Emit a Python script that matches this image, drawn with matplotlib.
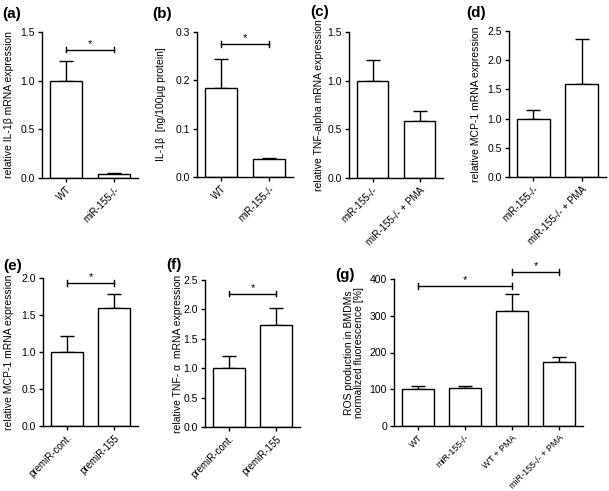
import numpy as np
import matplotlib
matplotlib.use("Agg")
import matplotlib.pyplot as plt

plt.rcParams['font.family'] = ['Liberation Sans', 'DejaVu Sans']

# panel data (means and upper error bars)
a_labels = ["WT", "miR-155-/-"]
a_means = [1.0, 0.04]
a_errs = [0.2, 0.01]

b_labels = ["WT", "miR-155-/-"]
b_means = [0.185, 0.038]
b_errs = [0.06, 0.002]

c_labels = ["miR-155-/-", "miR-155-/- + PMA"]
c_means = [1.0, 0.59]
c_errs = [0.21, 0.1]

d_labels = ["miR-155-/-", "miR-155-/- + PMA"]
d_means = [1.0, 1.6]
d_errs = [0.14, 0.76]

e_labels = ["premiR-cont.", "premiR-155"]
e_means = [1.0, 1.6]
e_errs = [0.21, 0.18]

f_labels = ["premiR-cont.", "premiR-155"]
f_means = [1.0, 1.73]
f_errs = [0.2, 0.3]

g_labels = ["WT", "miR-155-/-", "WT + PMA", "miR-155-/- + PMA"]
g_means = [101, 103, 313, 174]
g_errs = [7, 5, 45, 14]

W, H = 609, 491
fig = plt.figure(figsize=(W / 100, H / 100), dpi=100)
FS = 7.5


def panel(left, right, top, bottom, labels, means, errs, ymax, step, ylabel,
          label_x, letter, letter_xy, fmt="%.1f", brackets=(), xfs=7):
    ax = fig.add_axes([left / W, 1 - bottom / H, (right - left) / W, (bottom - top) / H])
    x = np.arange(len(labels))
    ax.bar(x, means, width=0.68, color="white", edgecolor="black", linewidth=1.0, zorder=2)
    ax.errorbar(x, means, yerr=[np.zeros(len(errs)), errs], fmt="none", ecolor="black",
                elinewidth=1.0, capsize=5, capthick=1.0, zorder=1)
    ax.set_xlim(-0.5, len(labels) - 0.5)
    ax.set_ylim(0, ymax)
    ticks = np.arange(0, ymax + step / 2, step)
    ax.set_yticks(ticks)
    ax.set_yticklabels([fmt % t for t in ticks])
    ax.set_xticks(x)
    ax.set_xticklabels(labels, rotation=45, ha="right", rotation_mode="anchor")
    for s in ["top", "right"]:
        ax.spines[s].set_visible(False)
    for s in ["left", "bottom"]:
        ax.spines[s].set_linewidth(1.0)
    ax.tick_params(axis="both", direction="out", length=3, width=1.0, labelsize=FS, pad=2)
    ax.tick_params(axis="x", labelsize=xfs, pad=2)
    ax.set_ylabel(ylabel, fontsize=FS, linespacing=1.0)
    ax.yaxis.set_label_coords(label_x / W, 1 - (top + bottom) / 2 / H, transform=fig.transFigure)
    for (i, j, yb) in brackets:
        d = ymax * 0.02
        ax.plot([i, j], [yb, yb], color="black", lw=1.0, clip_on=False)
        ax.plot([i, i], [yb - d, yb + d], color="black", lw=1.0, clip_on=False)
        ax.plot([j, j], [yb - d, yb + d], color="black", lw=1.0, clip_on=False)
        ax.text((i + j) / 2, yb + d * 0.3, "*", ha="center", va="bottom", fontsize=8)
    fig.text(letter_xy[0] / W, 1 - letter_xy[1] / H, letter, fontsize=11, fontweight="bold",
             ha="left", va="center")
    return ax


panel(42, 138, 32, 178, a_labels, a_means, a_errs, 1.5, 0.5,
      "relative IL-1\u03b2 mRNA expression", 14, "(a)", (2, 14), brackets=[(0, 1, 1.32)])
panel(197, 293, 32, 177, b_labels, b_means, b_errs, 0.3, 0.1,
      "IL-1\u03b2  [ng/100\u00b5g protein]", 166, "(b)", (152, 14), brackets=[(0, 1, 0.276)])
panel(349, 443, 32, 178, c_labels, c_means, c_errs, 1.5, 0.5,
      "relative TNF-alpha mRNA expression", 324, "(c)", (310, 12))
panel(509, 606, 31, 177, d_labels, d_means, d_errs, 2.5, 0.5,
      "relative MCP-1 mRNA expression", 481, "(d)", (466, 13))
panel(43, 138, 278, 426, e_labels, e_means, e_errs, 2.0, 0.5,
      "relative MCP-1 mRNA expression", 14, "(e)", (3, 266), brackets=[(0, 1, 1.93)])
panel(205, 300, 280, 427, f_labels, f_means, f_errs, 2.5, 0.5,
      "relative TNF- \u03b1  mRNA expression", 183, "(f)", (166, 265), brackets=[(0, 1, 2.27)])
panel(394, 583, 279, 426, g_labels, g_means, g_errs, 400, 100,
      "ROS production in BMDMs\nnormalized fluorescence [%]", 364, "(g)", (335, 275),
      fmt="%d", brackets=[(0, 2, 380), (2, 3, 418)], xfs=6.5)

fig.savefig("out.png", dpi=100)
